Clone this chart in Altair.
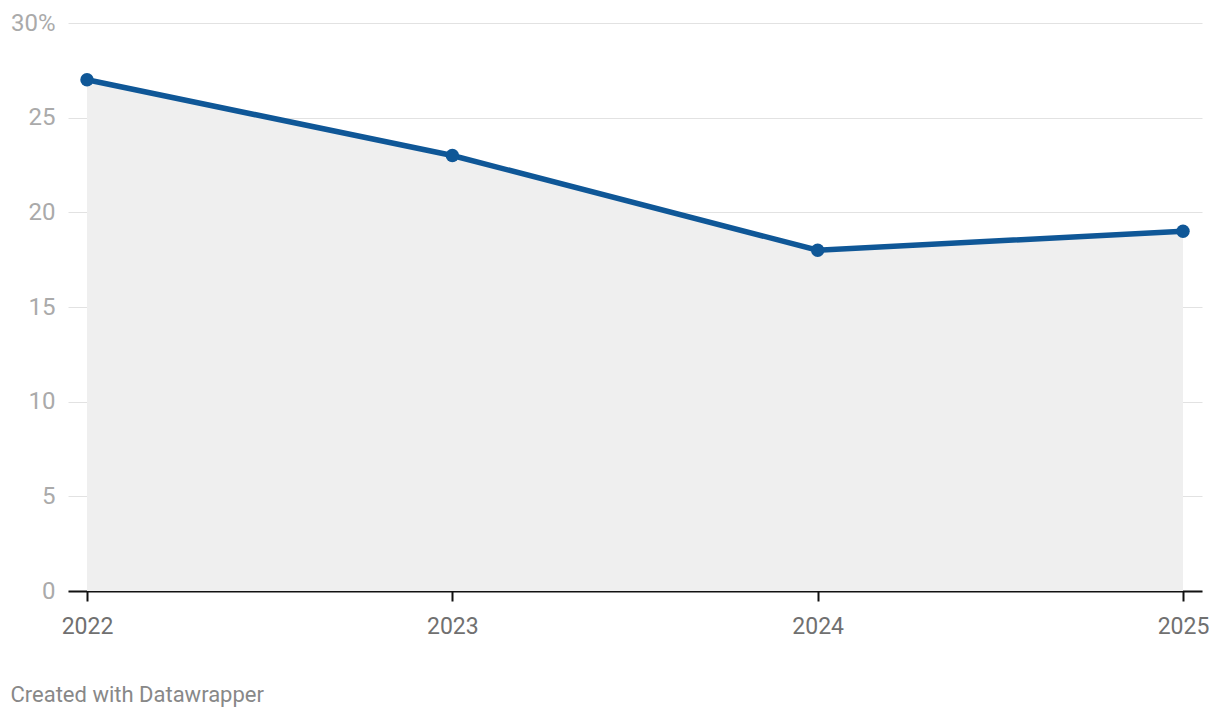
import altair as alt
import pandas as pd

years = [2022, 2023, 2024, 2025]
values = [27, 23, 18, 19]
y_ticks = [0, 5, 10, 15, 20, 25, 30]

df = pd.DataFrame({"year": years, "value": values})

x_scale = alt.Scale(domain=[2021.948, 2025.052], nice=False, zero=False)
y_scale = alt.Scale(domain=[0, 30], nice=False)

x_enc = alt.X(
    "year:Q",
    scale=x_scale,
    axis=alt.Axis(
        values=years,
        format="d",
        title=None,
        grid=False,
        domainColor="#111111",
        domainWidth=2,
        tickColor="#111111",
        tickWidth=2,
        tickSize=10,
        labelPadding=14,
        labelColor="#707070",
        labelFontSize=23,
        labelFont="Roboto",
        labelFlush=False,
    ),
)
y_enc = alt.Y(
    "value:Q",
    scale=y_scale,
    axis=alt.Axis(
        values=y_ticks,
        title=None,
        domain=False,
        ticks=False,
        grid=True,
        gridColor="#e2e2e2",
        gridWidth=1,
        labelPadding=13,
        labelColor="#aaaaaa",
        labelFontSize=24,
        labelFont="Roboto",
        labelExpr="datum.value == 30 ? '30%' : datum.label",
    ),
)

base = alt.Chart(df)
area = base.mark_area(color="#efefef", opacity=1).encode(x=x_enc, y=y_enc)
line = base.mark_line(color="#0f5797", strokeWidth=5.5).encode(x="year:Q", y="value:Q")
pts = base.mark_point(filled=True, color="#0f5797", size=180, opacity=1).encode(x="year:Q", y="value:Q")

chart = (
    alt.layer(area, line, pts)
    .properties(
        width=1134,
        height=568,
        autosize=alt.AutoSizeParams(type="none"),
        padding={"left": 60, "top": 15, "right": 10, "bottom": 119},
        title=alt.TitleParams(
            "Created with Datawrapper",
            orient="bottom",
            anchor="start",
            frame="bounds",
            offset=47,
            fontSize=22,
            font="Roboto",
            fontWeight="normal",
            color="#888888",
        ),
    )
    .configure_view(stroke=None)
)

chart.save("out.html", embed_options={"renderer": "svg", "actions": False})
